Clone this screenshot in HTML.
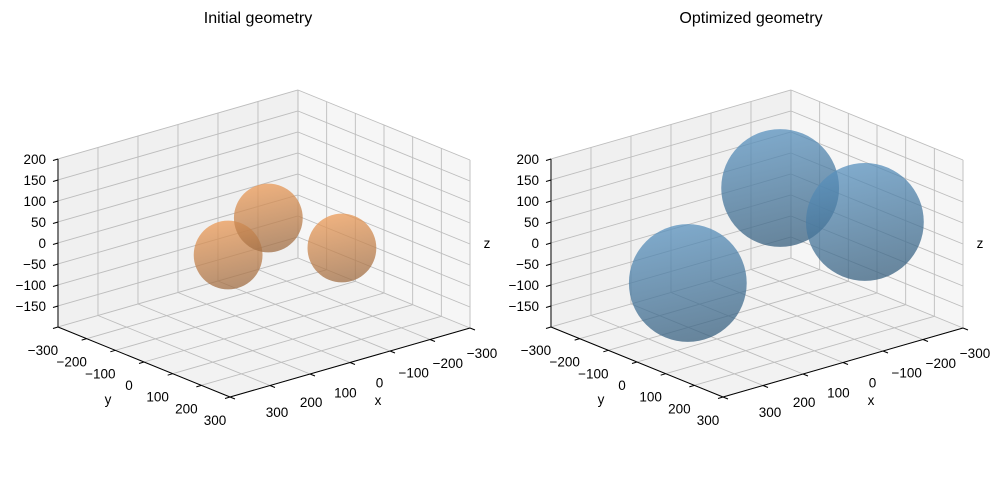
<!DOCTYPE html>
<html><head><meta charset="utf-8"><style>
body{margin:0;background:#fff;}
svg{display:block;font-family:"Liberation Sans","DejaVu Sans",sans-serif;}
</style></head><body>
<svg id="chart" width="1002" height="478" viewBox="0 0 1002 478">
<defs>
<linearGradient id="gOr" x1="0.3" y1="0" x2="0.5" y2="1">
<stop offset="0" stop-color="#ee9c58"/><stop offset="1" stop-color="#a06e45"/></linearGradient>
<linearGradient id="gBl" x1="0.3" y1="0" x2="0.5" y2="1">
<stop offset="0" stop-color="#5a93c0"/><stop offset="1" stop-color="#38607f"/></linearGradient>
</defs>
</svg>
<script>
// ---- data ----
const panelTitles = ["Initial geometry", "Optimized geometry"];
const initX = [94, 53, -98];
const initY = [6, 89, 135];
const initZ = [0, 100, 0];
const initR = [80, 80, 80];
const optX = [168, -7, -160];
const optY = [-7, 71, 153];
const optZ = [-50, 150, 50];
const optR = [137, 137, 137];
const xTicks = [-300, -200, -100, 0, 100, 200, 300];
const yTicks = [-300, -200, -100, 0, 100, 200, 300];
const zTicks = [-150, -100, -50, 0, 50, 100, 150, 200];
const xLim = [-300, 300], yLim = [-300, 300], zLim = [-200, 200];

const NS = "http://www.w3.org/2000/svg";
const svg = document.getElementById('chart');
function mk(tag, attrs, parent) {
  const e = document.createElementNS(NS, tag);
  for (const k in attrs) e.setAttribute(k, attrs[k]);
  (parent || svg).appendChild(e);
  return e;
}
function fmt(v){ return v < 0 ? "\u2212" + Math.abs(v) : String(v); }

function drawPanel(idx, ox, X, Y, Z, R, grad) {
  const g = mk('g', {});
  
  
  const P = (x, y, z) => [264 + ox - 0.4 * x + 0.2867 * y, 243.5 + 0.115 * x + 0.1167 * y - 0.42 * z];
  const pts = a => a.map(p => p.join(',')).join(' ');
  const [x0, x1] = xLim, [y0, y1] = yLim, [z0, z1] = zLim;
  const left = mk('polygon', {points: pts([P(x1,y0,z0),P(x1,y0,z1),P(x0,y0,z1),P(x0,y0,z0)]), fill:'#f0f0f0'}, g);
  
  
  const right = mk('polygon', {points: pts([P(x0,y0,z0),P(x0,y0,z1),P(x0,y1,z1),P(x0,y1,z0)]), fill:'#f6f6f6'}, g);
  
  
  const floor = mk('polygon', {points: pts([P(x1,y1,z0),P(x1,y0,z0),P(x0,y0,z0),P(x0,y1,z0)]), fill:'#f2f2f2'}, g);
  
  
  const gs = {stroke:'#bdbdbd', 'stroke-width':0.9, fill:'none'};
  const line = (a, b, st) => mk('line', Object.assign({x1:a[0],y1:a[1],x2:b[0],y2:b[1]}, st), g);
  xTicks.forEach(x => {
    const l1 = line(P(x,y0,z0), P(x,y0,z1), gs);
    
    
    const l2 = line(P(x,y1,z0), P(x,y0,z0), gs);
    
    
  });
  yTicks.forEach(y => {
    const l1 = line(P(x0,y,z0), P(x0,y,z1), gs);
    
    
    const l2 = line(P(x1,y,z0), P(x0,y,z0), gs);
    
    
  });
  zTicks.forEach(z => {
    const l1 = line(P(x1,y0,z), P(x0,y0,z), gs);
    
    
    const l2 = line(P(x0,y0,z), P(x0,y1,z), gs);
    
    
  });
  const s = 0.43;
  X.forEach((x, i) => {
    const c = P(x, Y[i], Z[i]);
    const ci = mk('circle', {cx:c[0], cy:c[1], r:R[i]*s, fill:'url(#'+grad+')', 'fill-opacity':0.75}, g);
    
    
  });
  const ax = {stroke:'#000', 'stroke-width':1};
  const za = line(P(x1,y0,z0), P(x1,y0,z1), ax);
  
  
  const ya = line(P(x1,y0,z0), P(x1,y1,z0), ax);
  
  
  const xa = line(P(x1,y1,z0), P(x0,y1,z0), ax);
  
  
  const txt = (x, y, s, anchor, size) => { const t = mk('text', {x:x, y:y, 'text-anchor':anchor, 'font-size':size, fill:'#000'}, g); t.textContent = s; return t; };
  zTicks.forEach(z => {
    const p = P(x1, y0, z);
    const tk = line(p, [p[0]-5, p[1]+1.5], ax);
    
    
    const t = txt(p[0]-12, p[1]+5, fmt(z), 'end', 13.5);
    
    
  });
  yTicks.forEach(y => {
    const p = P(x1, y, z0);
    const tk = line(p, [p[0]-5, p[1]+1.5], ax);
    
    
    const t = txt(p[0]-15, p[1]+28, fmt(y), 'middle', 13.5);
    
    
  });
  xTicks.forEach(x => {
    const p = P(x, y1, z0);
    const tk = line(p, [p[0]+5, p[1]+2], ax);
    
    
    const f = (x - x0) / (x1 - x0);
    const dx = 12 + f * 35, dy = 25 - f * 10;
    const t = txt(p[0]+dx, p[1]+dy+5, fmt(x), 'middle', 13.5);
    
    
  });
  const xl = txt(378+ox, 405, 'x', 'middle', 13.5);
  
  
  const yl = txt(108+ox, 404, 'y', 'middle', 13.5);
  
  
  const zl = txt(487+ox, 248, 'z', 'middle', 13.5);
  
  
  const ti = txt(258+ox, 23, panelTitles[idx], 'middle', 16);
  
  
}
drawPanel(0, 0, initX, initY, initZ, initR, 'gOr');
drawPanel(1, 493, optX, optY, optZ, optR, 'gBl');
</script>
</body></html>
